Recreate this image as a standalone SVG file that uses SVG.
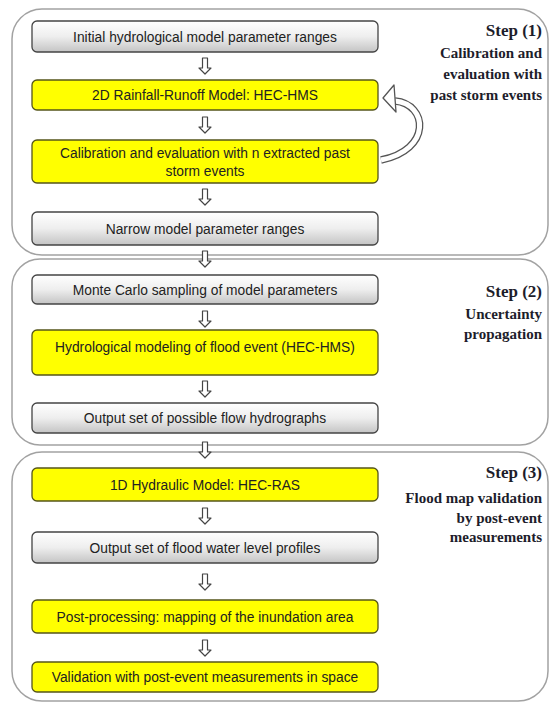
<svg xmlns="http://www.w3.org/2000/svg" width="551" height="703" viewBox="0 0 551 703">
<defs>
<linearGradient id="gray" x1="0" y1="0" x2="0" y2="1">
<stop offset="0" stop-color="#ffffff"/>
<stop offset="0.5" stop-color="#eeeeee"/>
<stop offset="1" stop-color="#c4c4c4"/>
</linearGradient>
<polygon id="dn" points="-2.5,0 2.5,0 2.5,10 6,10 0,16 -6,10 -2.5,10" fill="#fff" stroke="#444" stroke-width="1.2" stroke-linejoin="round"/>
</defs>
<style>
.frame{fill:#fff;stroke:#a2a2a2;stroke-width:1.5}
.g{fill:url(#gray);stroke:#444;stroke-width:1.3}
.y{fill:#ffff00;stroke:#55551a;stroke-width:1.3}
.t{font-family:"Liberation Sans",Arial,sans-serif;font-size:13.8px;fill:#222;text-anchor:middle}
.s{font-family:"Liberation Serif","Times New Roman",serif;font-weight:bold;fill:#1d1d2b;text-anchor:end}
.h{font-size:17px}
.l{font-size:15px}
</style>
<rect width="551" height="703" fill="#fff"/>
<g id="step1">
<rect class="frame" x="12" y="9" width="536" height="246" rx="30"/>
<text class="s h" x="542" y="36">Step (1)</text>
<text class="s l" x="542" y="58">Calibration and</text>
<text class="s l" x="542" y="79">evaluation with</text>
<text class="s l" x="542" y="100">past storm events</text>
</g>
<g id="step2">
<rect class="frame" x="12" y="259" width="536" height="186" rx="28"/>
<text class="s h" x="542" y="297">Step (2)</text>
<text class="s l" x="542" y="319">Uncertainty</text>
<text class="s l" x="542" y="339">propagation</text>
</g>
<g id="step3">
<rect class="frame" x="12" y="452" width="536" height="249" rx="30"/>
<text class="s h" x="542" y="478">Step (3)</text>
<text class="s l" x="542" y="503">Flood map validation</text>
<text class="s l" x="542" y="523">by post-event</text>
<text class="s l" x="542" y="542">measurements</text>
</g>
<g id="n1"><rect class="g" x="32" y="21" width="346" height="31" rx="5"/><text class="t" x="205" y="41.5">Initial hydrological model parameter ranges</text></g>
<g id="n2"><rect class="y" x="32" y="80" width="346" height="30" rx="5"/><text class="t" x="205" y="100">2D Rainfall-Runoff Model: HEC-HMS</text></g>
<g id="n3"><rect class="y" x="32" y="140" width="346" height="43" rx="5"/><text class="t" x="205" y="158">Calibration and evaluation with n extracted past</text><text class="t" x="205" y="175.5">storm events</text></g>
<g id="n4"><rect class="g" x="32" y="212" width="346" height="33" rx="5"/><text class="t" x="205" y="233.5">Narrow model parameter ranges</text></g>
<g id="n5"><rect class="g" x="32" y="275" width="346" height="29" rx="5"/><text class="t" x="205" y="294.5">Monte Carlo sampling of model parameters</text></g>
<g id="n6"><rect class="y" x="32" y="330" width="346" height="45" rx="5"/><text class="t" x="205" y="351.5">Hydrological modeling of flood event (HEC-HMS)</text></g>
<g id="n7"><rect class="g" x="32" y="403" width="346" height="30" rx="5"/><text class="t" x="205" y="422.5">Output set of possible flow hydrographs</text></g>
<g id="n8"><rect class="y" x="32" y="468" width="346" height="33" rx="5"/><text class="t" x="205" y="489.5">1D Hydraulic Model: HEC-RAS</text></g>
<g id="n9"><rect class="g" x="32" y="532" width="346" height="31" rx="5"/><text class="t" x="205" y="552.5">Output set of flood water level profiles</text></g>
<g id="n10"><rect class="y" x="32" y="600" width="346" height="33" rx="5"/><text class="t" x="205" y="621.5">Post-processing: mapping of the inundation area</text></g>
<g id="n11"><rect class="y" x="32" y="662" width="346" height="30" rx="5"/><text class="t" x="205" y="682">Validation with post-event measurements in space</text></g>
<g id="connectors">
<use href="#dn" x="205" y="58"/>
<use href="#dn" x="205" y="117"/>
<use href="#dn" x="205" y="189"/>
<use href="#dn" x="205" y="251"/>
<use href="#dn" x="205" y="311"/>
<use href="#dn" x="205" y="381"/>
<use href="#dn" x="205" y="442"/>
<use href="#dn" x="205" y="508"/>
<use href="#dn" x="205" y="574"/>
<use href="#dn" x="205" y="640"/>
<path d="M381,160 C432,150 428,104 395,101" fill="none" stroke="#555" stroke-width="7.5"/>
<path d="M381,160 C432,150 428,104 395,101" fill="none" stroke="#fff" stroke-width="5"/>
<polygon points="383,98 394,85 396,112" fill="#fff" stroke="#555" stroke-width="1.3" stroke-linejoin="round"/>
</g>
</svg>
